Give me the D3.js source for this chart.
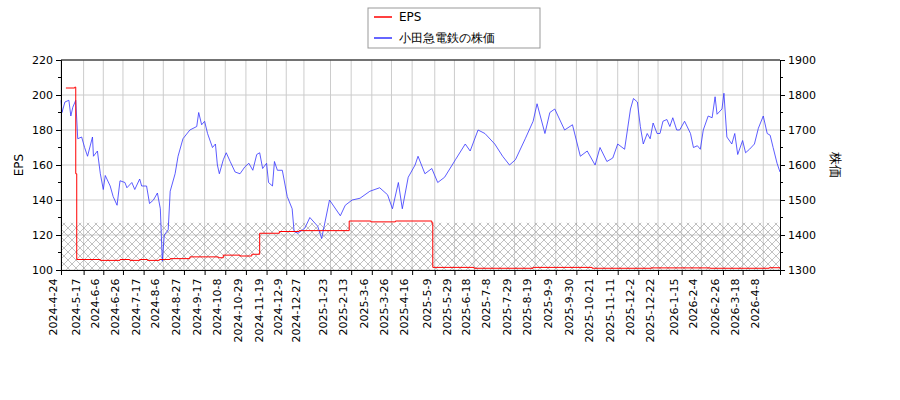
<!DOCTYPE html><html><head><meta charset="utf-8"><script src="https://d3js.org/d3.v7.min.js"></script>
<style>body{margin:0;background:#fff}text{font-family:"DejaVu Sans",sans-serif}</style></head><body><svg id="c" width="900" height="400"></svg>
<script>
const startDate = "2024-04-24", endDate = "2026-04-25";
const tickLabels = ["2024-4-24","2024-5-17","2024-6-6","2024-6-26","2024-7-17","2024-8-6","2024-8-27","2024-9-17","2024-10-8","2024-10-29","2024-11-19","2024-12-9","2024-12-27","2025-1-23","2025-2-13","2025-3-6","2025-3-26","2025-4-16","2025-5-9","2025-5-29","2025-6-18","2025-7-8","2025-7-29","2025-8-19","2025-9-9","2025-9-30","2025-10-21","2025-11-11","2025-12-2","2025-12-22","2026-1-15","2026-2-4","2026-2-26","2026-3-18","2026-4-8"];
// days since start, stock price
const priceDays = [0,1,4,8,10,12,15,17,21,24,27,32,33,37,40,43,45,50,53,57,60,65,67,72,75,80,82,87,90,94,98,101,103,105,109,111,116,119,124,131,138,140,143,146,149,154,157,159,161,165,168,172,177,182,187,191,195,199,202,205,209,211,215,217,220,225,230,235,237,241,248,253,261,265,273,284,289,296,304,314,324,332,337,343,347,353,360,363,370,377,383,390,401,411,416,424,431,441,449,456,462,472,480,484,492,497,502,512,520,528,535,543,548,555,561,566,573,579,582,586,589,592,596,599,602,606,609,612,616,619,622,626,629,634,640,643,647,650,653,658,662,665,667,672,674,677,682,685,688,693,696,700,705,709,714,718,721,724,728,731];
const prices = [1785,1750,1780,1785,1740,1765,1785,1675,1680,1650,1625,1680,1625,1640,1575,1530,1570,1540,1510,1485,1555,1550,1535,1550,1530,1560,1540,1540,1490,1500,1520,1475,1325,1400,1415,1525,1575,1625,1675,1700,1710,1750,1715,1725,1690,1650,1660,1600,1575,1615,1635,1610,1580,1575,1595,1605,1585,1630,1635,1590,1605,1550,1540,1610,1585,1585,1510,1475,1410,1405,1420,1450,1425,1390,1500,1455,1485,1500,1505,1525,1535,1515,1475,1550,1475,1565,1600,1625,1575,1590,1550,1565,1615,1660,1640,1700,1690,1660,1625,1600,1615,1675,1725,1775,1690,1750,1760,1700,1715,1625,1640,1600,1650,1610,1620,1660,1645,1760,1790,1780,1710,1660,1690,1675,1720,1690,1690,1725,1730,1710,1735,1700,1700,1725,1690,1650,1655,1645,1700,1740,1735,1795,1745,1760,1805,1680,1660,1690,1630,1670,1635,1645,1660,1705,1740,1690,1685,1650,1605,1580];
const epsDays = [5,14,15,16,40,60,70,80,88,100,111,131,150,160,165,182,194,202,222,242,262,293,315,340,377,378,420,480,540,600,660,720,731];
const eps = [204,204.5,155,106,105.5,106,105.5,106,105.5,106,106.5,107.5,107.5,107,108.5,108,109,121,122,122.5,122.5,128,127.5,128,127,101.5,101,101.5,101,101.2,101,101.3,101];
const hatchTop = 127;
const leftTicks = [100,120,140,160,180,200,220], rightTicks = [1300,1400,1500,1600,1700,1800,1900];

const svg = d3.select("#c");
const m = {l:61,r:780,t:60,b:270};
const p = d3.timeParse("%Y-%m-%d");
const t0 = p(startDate);
const x = d3.scaleTime().domain([t0,p(endDate)]).range([m.l,m.r]);
const yL = d3.scaleLinear().domain([100,220]).range([m.b,m.t]);
const yR = d3.scaleLinear().domain([1300,1900]).range([m.b,m.t]);
const dd = n => d3.timeDay.offset(t0,n);
const tickDates = tickLabels.map(s=>{const [a,b,c]=s.split("-").map(Number);return new Date(a,b-1,c);});
const fmt = d => `${d.getFullYear()}-${d.getMonth()+1}-${d.getDate()}`;

const defs = svg.append("defs");
const pat = defs.append("pattern").attr("id","hx").attr("patternUnits","userSpaceOnUse").attr("width",8).attr("height",8);
pat.append("path").attr("d","M0,0L8,8M8,0L0,8").attr("stroke","#999").attr("stroke-width",0.6);
svg.append("g").selectAll("line").data(tickDates).join("line").attr("x1",d=>x(d)).attr("x2",d=>x(d)).attr("y1",m.t).attr("y2",m.b).attr("stroke","#ccc");
svg.append("g").selectAll("line").data(leftTicks).join("line").attr("x1",m.l).attr("x2",m.r).attr("y1",d=>yL(d)).attr("y2",d=>yL(d)).attr("stroke","#ccc");
svg.append("rect").attr("x",m.l).attr("y",yL(hatchTop)).attr("width",m.r-m.l).attr("height",m.b-yL(hatchTop)).attr("fill","url(#hx)");
svg.append("path").datum(priceDays.map((d,i)=>[dd(d),prices[i]])).attr("fill","none").attr("stroke","#3333ff").attr("stroke-width",0.8)
 .attr("d",d3.line().x(d=>x(d[0])).y(d=>yR(d[1])));
svg.append("path").datum(epsDays.map((d,i)=>[dd(d),eps[i]])).attr("fill","none").attr("stroke","#ff0000").attr("stroke-width",1)
 .attr("d",d3.line().curve(d3.curveStepAfter).x(d=>x(d[0])).y(d=>yL(d[1])));
const gl = svg.append("g").attr("transform",`translate(${m.l},0)`).call(d3.axisLeft(yL).tickValues(leftTicks).tickSize(5));
const gr = svg.append("g").attr("transform",`translate(${m.r},0)`).call(d3.axisRight(yR).tickValues(rightTicks).tickFormat(d3.format("d")).tickSize(5));
const gb = svg.append("g").attr("transform",`translate(0,${m.b})`).call(d3.axisBottom(x).tickValues(tickDates).tickFormat(fmt).tickSize(5));
gb.selectAll("text").attr("transform","rotate(-90)").attr("text-anchor","end").attr("dx","-0.6em").attr("dy","-0.4em").attr("y",0).attr("x",-2);
[gl,gr,gb].forEach(g=>{g.selectAll("text").attr("font-size",11).attr("fill","#000").attr("font-family","DejaVu Sans");g.select(".domain").attr("stroke","#000");});
svg.append("g").selectAll("line").data(d3.range(110,220,20)).join("line").attr("x1",m.l-3).attr("x2",m.l).attr("y1",d=>yL(d)).attr("y2",d=>yL(d)).attr("stroke","#000");
svg.append("g").selectAll("line").data(d3.range(1350,1900,100)).join("line").attr("x1",m.r).attr("x2",m.r+3).attr("y1",d=>yR(d)).attr("y2",d=>yR(d)).attr("stroke","#000");
svg.append("line").attr("x1",m.l).attr("x2",m.r).attr("y1",m.t).attr("y2",m.t).attr("stroke","#000");
svg.append("text").attr("transform","translate(23,165) rotate(-90)").attr("text-anchor","middle").attr("font-size",12).text("EPS");
svg.append("text").attr("transform","translate(831,165) rotate(90)").attr("text-anchor","middle").attr("font-size",13).attr("font-family","Noto Sans CJK JP").text("株価");
const lg = svg.append("g");
lg.append("rect").attr("x",368).attr("y",8).attr("width",172).attr("height",40).attr("fill","#fff").attr("stroke","#999");
[["EPS","#ff0000"],["小田急電鉄の株価","#3333ff"]].forEach((d,i)=>{
 lg.append("line").attr("x1",374).attr("x2",392).attr("y1",17+i*21).attr("y2",17+i*21).attr("stroke",d[1]).attr("stroke-width",1.5);
 lg.append("text").attr("x",399).attr("y",21+i*21).attr("font-size",12).attr("font-family","DejaVu Sans, Noto Sans CJK JP").text(d[0]);
});
</script></body></html>
